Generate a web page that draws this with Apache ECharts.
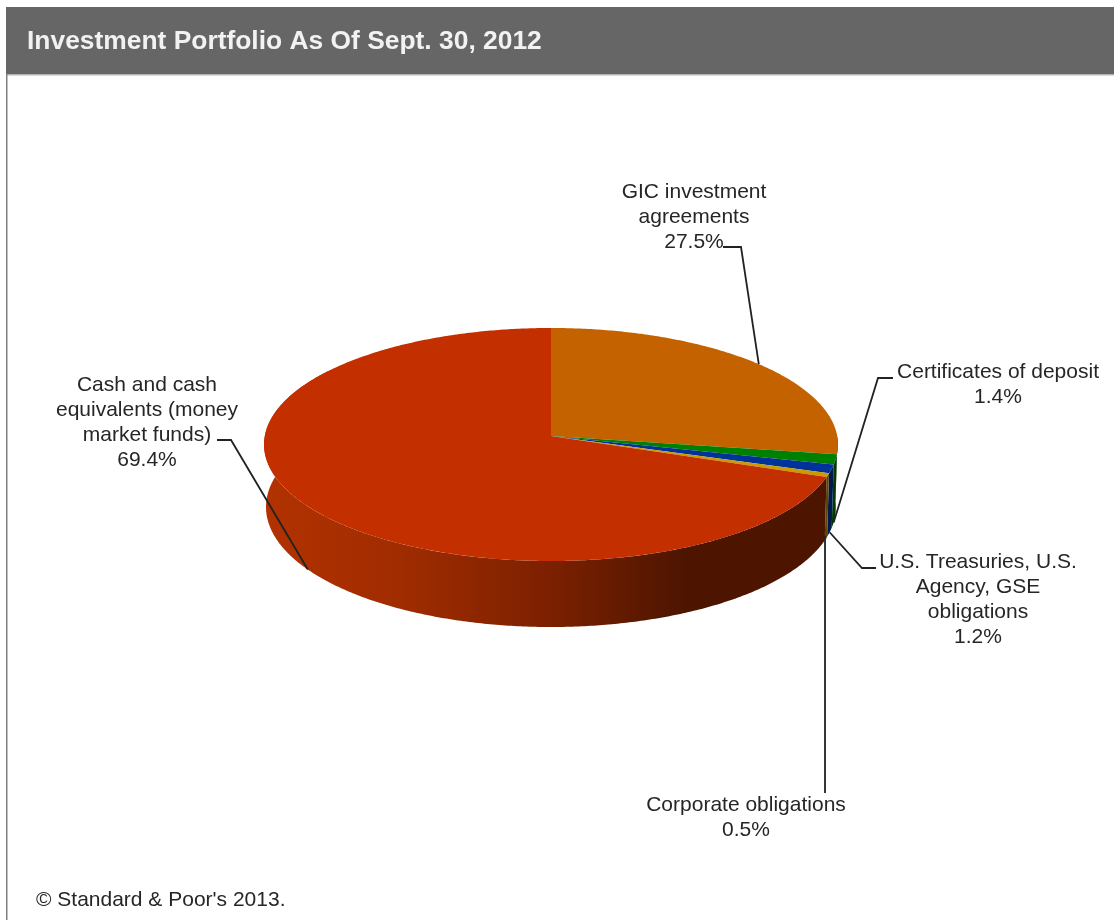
<!DOCTYPE html>
<html>
<head>
<meta charset="utf-8">
<style>html,body{margin:0;padding:0;background:#fff}#chart{width:1114px;height:920px}</style>
<script src="https://cdn.jsdelivr.net/npm/echarts@6/dist/echarts.min.js"></script>
</head>
<body>
<div id="chart"></div>
<script>
// Portfolio shares, in clockwise order from twelve o'clock
const categories = ['GIC investment agreements', 'Certificates of deposit', 'U.S. Treasuries, U.S. Agency, GSE obligations', 'Corporate obligations', 'Cash and cash equivalents (money market funds)'];
const shares = [27.5, 1.4, 1.2, 0.5, 69.4];
const titleText = 'Investment Portfolio As Of Sept. 30, 2012';
const creditText = '\u00A9 Standard & Poor\'s 2013.';

// Wrapped label lines for each slice
const labelLines = [
  ['GIC investment', 'agreements'],
  ['Certificates of deposit'],
  ['U.S. Treasuries, U.S.', 'Agency, GSE', 'obligations'],
  ['Corporate obligations'],
  ['Cash and cash', 'equivalents (money', 'market funds)']
];

// Slice styling
const faceColors = ['#c46200', '#008000', '#003399', '#cc9900', '#c42f00'];
const wallColors = ['#5a2d00', '#003a00', '#001a4d', '#5e4600', null];
const wallStops = [
  [0, '#b23200'], [0.235, '#a02c00'], [0.507, '#7a2000'], [0.735, '#4d1500'], [1, '#4d1500']
];

// Label placement: centre x, first line centre y, and the leader's path before it reaches the slice
const labelLayout = [
  { cx: 694, y: 192, path: [[723, 247], [741, 247]] },
  { cx: 998, y: 372, path: [[893, 378], [878, 378]] },
  { cx: 978, y: 562, path: [[876, 568], [862, 568]] },
  { cx: 746, y: 805, path: [[825, 793], [825, 537]] },
  { cx: 147, y: 385, path: [[217, 440], [231, 440]] }
];
const lineStep = 25;

// Pie geometry: seen in perspective, the apex sits above the centre of the rim ellipse
const apex = { x: 551, y: 436 };
const persp = 0.0729;
const radiusX = 286.2;
const radiusY = 115.9;
const rimTop = { x: 551, y: 444.5, rx: 287, ry: 116.5 };
const rimBase = { x: 551, y: 507, rx: 285, ry: 120 };

const total = shares.reduce((a, b) => a + b, 0);
const toAngle = (pct) => (pct / total) * Math.PI * 2;
const startOf = (i) => toAngle(shares.slice(0, i).reduce((a, b) => a + b, 0));
const endOf = (i) => toAngle(shares.slice(0, i + 1).reduce((a, b) => a + b, 0));

// Point on the upper rim for a clockwise angle measured from twelve o'clock
function topPoint(a) {
  const u = Math.sin(a), v = Math.cos(a), d = 1 + persp * v;
  return [apex.x + radiusX * u / d, apex.y - radiusY * v / d];
}
// The matching point on the lower rim
function basePoint(a) {
  const p = topPoint(a);
  const phi = Math.atan2((p[0] - rimTop.x) / rimTop.rx, -(p[1] - rimTop.y) / rimTop.ry);
  return [rimBase.x + rimBase.rx * Math.sin(phi), rimBase.y - rimBase.ry * Math.cos(phi)];
}
function arc(fn, from, to) {
  const n = Math.max(2, Math.ceil((to - from) / 0.01));
  const pts = [];
  for (let k = 0; k <= n; k++) pts.push(fn(from + (to - from) * k / n));
  return pts;
}
const seriesData = shares.map((v, i) => ({ name: categories[i], value: v }));

const wallGradient = new echarts.graphic.LinearGradient(rimBase.x - rimBase.rx, 0, rimBase.x + rimBase.rx, 0,
  wallStops.map(s => ({ offset: s[0], color: s[1] })), true);

const fontFamily = '"Liberation Sans", Arial, sans-serif';

const option = {
  animation: false,
  backgroundColor: '#ffffff',
  graphic: [
    { type: 'rect', shape: { x: 6, y: 7, width: 1108, height: 67 }, style: { fill: '#666666' }, silent: true },
    { type: 'rect', shape: { x: 6, y: 74, width: 1108, height: 1.5 }, style: { fill: '#b5b5b5' }, silent: true },
    { type: 'rect', shape: { x: 6, y: 74, width: 1.5, height: 846 }, style: { fill: '#808080' }, silent: true },
    { type: 'text', style: { x: 27, y: 42, text: titleText, fill: '#f2f2f2', font: 'bold 26.4px ' + fontFamily, textVerticalAlign: 'middle' }, silent: true },
    { type: 'text', style: { x: 36, y: 900, text: creditText, fill: '#262626', font: '21px ' + fontFamily, textVerticalAlign: 'middle' }, silent: true }
  ],
  series: [
    // Side wall, drawn first so the top faces cover it
    {
      type: 'custom', coordinateSystem: 'none', silent: true, z: 1, data: seriesData,
      renderItem(params) {
        const i = params.dataIndex;
        const from = startOf(i), to = Math.min(endOf(i), Math.PI * 1.7);
        const lower = Math.max(from, Math.PI * 0.5);
        if (to <= lower) return { type: 'group', children: [] };
        const top = arc(topPoint, lower, to);
        const base = arc(basePoint, lower, to).reverse();
        return {
          type: 'polygon',
          shape: { points: top.concat(base) },
          style: { fill: wallColors[i] || wallGradient }
        };
      }
    },
    // Top faces
    {
      type: 'custom', coordinateSystem: 'none', silent: true, z: 2, data: seriesData,
      renderItem(params) {
        const i = params.dataIndex;
        const pts = [[apex.x, apex.y]].concat(arc(topPoint, startOf(i), endOf(i)));
        return { type: 'polygon', shape: { points: pts }, style: { fill: faceColors[i] } };
      }
    },
    // Labels with leader lines ending at each slice's mid angle
    {
      type: 'custom', coordinateSystem: 'none', silent: true, z: 3, data: seriesData,
      renderItem(params) {
        const i = params.dataIndex;
        const mid = (startOf(i) + endOf(i)) / 2;
        const anchor = Math.cos(mid) < 0 ? basePoint(mid) : topPoint(mid);
        const L = labelLayout[i];
        const lines = labelLines[i].concat([shares[i].toFixed(1) + '%']);
        const children = lines.map((t, k) => ({
          type: 'text',
          style: {
            x: L.cx, y: L.y + k * lineStep, text: t, fill: '#262626',
            font: '21px ' + fontFamily, textAlign: 'center', textVerticalAlign: 'middle'
          }
        }));
        children.push({
          type: 'polyline',
          shape: { points: L.path.concat([anchor]) },
          style: { fill: 'none', stroke: '#222222', lineWidth: 1.8 }
        });
        return { type: 'group', children };
      }
    }
  ]
};

const chart = echarts.init(document.getElementById('chart'), null, { renderer: 'canvas' });
chart.setOption(option);
</script>
</body>
</html>
